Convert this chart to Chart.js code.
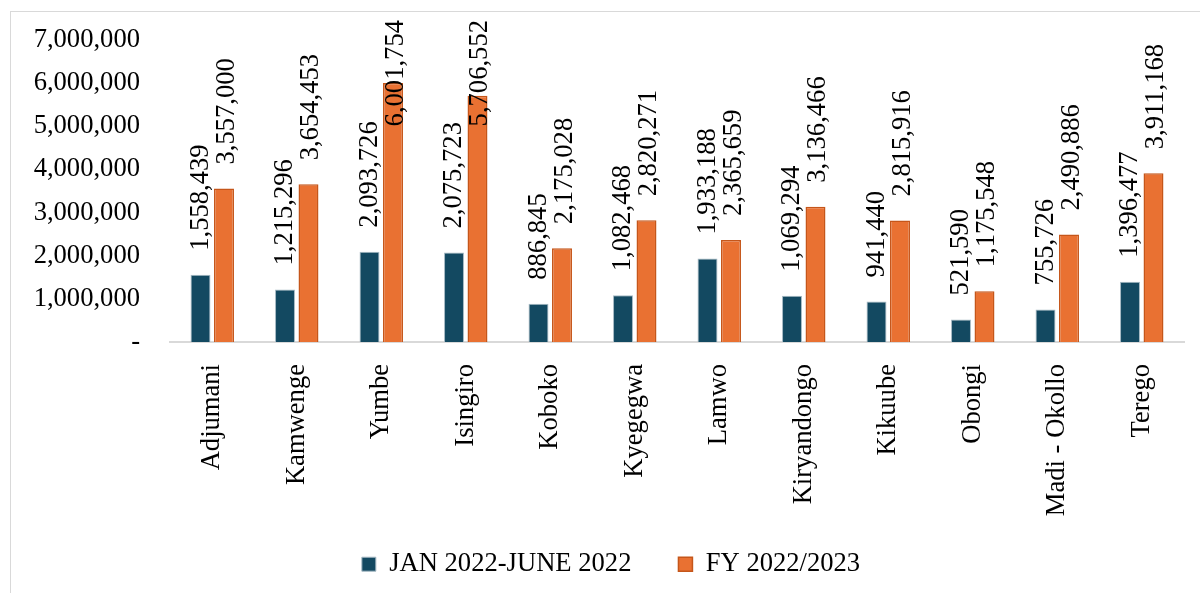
<!DOCTYPE html>
<html><head><meta charset="utf-8">
<script src="https://cdn.jsdelivr.net/npm/chart.js@4"></script>
<style>html,body{margin:0;padding:0;background:#fff}#wrap{width:1200px;height:593px;position:relative}</style>
</head><body><div id="wrap"><canvas id="c" width="1200" height="593"></canvas></div>
<script>
const categories = ['Adjumani','Kamwenge','Yumbe','Isingiro','Koboko','Kyegegwa','Lamwo','Kiryandongo','Kikuube','Obongi','Madi - Okollo','Terego'];
const seriesNames = ['JAN 2022-JUNE 2022','FY 2022/2023'];
const janJune2022 = [1558439,1215296,2093726,2075723,886845,1082468,1933188,1069294,941440,521590,755726,1396477];
const fy2022_2023 = [3557000,3654453,6001754,5706552,2175028,2820271,2365659,3136466,2815916,1175548,2490886,3911168];
const yTickValues = [0,1000000,2000000,3000000,4000000,5000000,6000000,7000000];

const FONT = '"Liberation Serif", "Times New Roman", serif';
const FS = 26.6;
const fmt = v => v === 0 ? '-' : Number(v).toLocaleString('en-US');

const frame = {
  id: 'frame',
  beforeDraw(chart) {
    const ctx = chart.ctx;
    ctx.save();
    ctx.fillStyle = '#fff';
    ctx.fillRect(0, 0, chart.width, chart.height);
    ctx.strokeStyle = '#d9d9d9';
    ctx.lineWidth = 1;
    ctx.strokeRect(10.5, 11.5, 1220, 620);
    ctx.restore();
  },
  afterLayout(chart) {
    // let the tick labels extend beyond their axis boxes without being clipped
    chart.scales.x.bottom += 40;
    chart.scales.y.left = 0;
  }
};

const barLabels = {
  id: 'barLabels',
  afterDatasetsDraw(chart) {
    const ctx = chart.ctx;
    ctx.save();
    ctx.font = FS + 'px ' + FONT;
    ctx.fillStyle = '#000';
    ctx.textAlign = 'left';
    ctx.textBaseline = 'middle';
    chart.data.datasets.forEach((ds, di) => {
      const meta = chart.getDatasetMeta(di);
      meta.data.forEach((bar, i) => {
        const txt = fmt(ds.data[i]);
        const w = ctx.measureText(txt).width;
        let y = bar.y - 24;
        if (y - w < 20) y = 20 + w;
        ctx.save();
        ctx.translate(bar.x + (di === 1 ? 3 : 0.5), y);
        ctx.rotate(-Math.PI / 2);
        ctx.fillText(txt, 0, 0);
        ctx.restore();
      });
    });
    ctx.restore();
  }
};

new Chart(document.getElementById('c'), {
  type: 'bar',
  data: {
    labels: categories,
    datasets: [
      { label: seriesNames[0], data: janJune2022, backgroundColor: '#134961', borderColor: '#a7bac4', borderWidth: 1,
        categoryPercentage: 0.556, barPercentage: 0.85 },
      { label: seriesNames[1], data: fy2022_2023, backgroundColor: '#E97132', borderColor: '#C5561A', borderWidth: 1.5,
        categoryPercentage: 0.556, barPercentage: 0.85 }
    ]
  },
  options: {
    responsive: false,
    animation: false,
    devicePixelRatio: 1,
    layout: { padding: { top: 40, right: 16, bottom: 5.5, left: 38 } },
    font: { family: FONT, size: FS },
    scales: {
      x: {
        grid: { display: false, drawTicks: false },
        border: { display: true, color: '#d9d9d9', width: 2 },
        ticks: { color: '#000', font: { family: FONT, size: FS }, minRotation: 90, maxRotation: 90, padding: 22, autoSkip: false },
        afterFit(scale) { scale.height = 161.9; }
      },
      y: {
        min: 0, max: 7000000,
        grid: { display: false, drawTicks: false },
        border: { display: false },
        afterBuildTicks(scale) { scale.ticks = yTickValues.map(v => ({ value: v })); },
        ticks: { color: '#000', font: { family: FONT, size: FS }, padding: 30, callback: v => fmt(v) },
        afterFit(scale) { scale.width = 132; scale.paddingTop = 0; scale.paddingBottom = 0; }
      }
    },
    plugins: {
      legend: {
        position: 'bottom',
        labels: { color: '#000', font: { family: FONT, size: FS }, boxWidth: 14, boxHeight: 14, padding: 47 }
      },
      tooltip: { enabled: false }
    }
  },
  plugins: [frame, barLabels]
});
</script></body></html>
